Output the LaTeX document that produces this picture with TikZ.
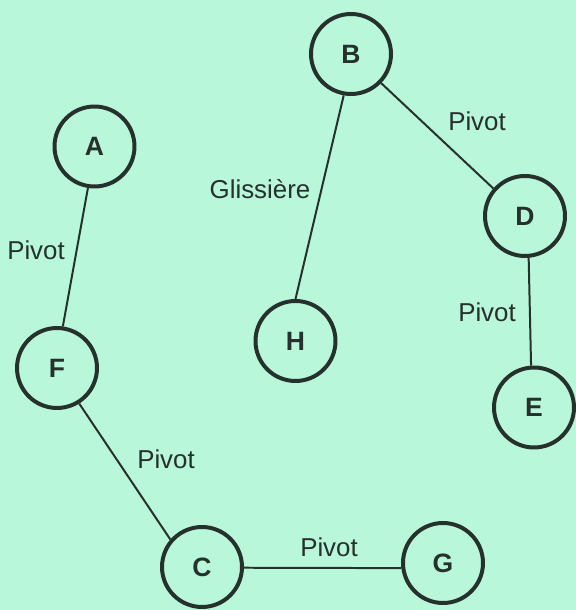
\documentclass[tikz,border=0pt]{standalone}
\usepackage{fontspec}
\setmainfont{Liberation Sans}
\definecolor{bg}{HTML}{B9F7DA}
\definecolor{ink}{HTML}{26302C}
\tikzset{
 vertex/.style={circle,draw=ink,line width=3pt,minimum size=2.12cm,inner sep=0pt,font=\bfseries\fontsize{20}{24}\selectfont,text=ink},
 link/.style={draw=ink,line width=1.5pt},
 lab/.style={font=\fontsize{19.5}{23}\selectfont,text=ink,inner sep=0pt}
}
\begin{document}
\begin{tikzpicture}[x=1cm,y=1cm]
\fill[bg] (0,0) rectangle (576*0.0265,610*0.0265);
\useasboundingbox (0,0) rectangle (576*0.0265,610*0.0265);
\node[vertex] (A) at ({94.5*0.0265},{(610-146.5)*0.0265}) {A};
\node[vertex] (B) at ({351*0.0265},{(610-54)*0.0265}) {B};
\node[vertex] (D) at ({525*0.0265},{(610-216)*0.0265}) {D};
\node[vertex] (H) at ({295.5*0.0265},{(610-341)*0.0265}) {H};
\node[vertex] (E) at ({534*0.0265},{(610-407.5)*0.0265}) {E};
\node[vertex] (F) at ({57*0.0265},{(610-368)*0.0265}) {F};
\node[vertex] (C) at ({202*0.0265},{(610-567)*0.0265}) {C};
\node[vertex] (G) at ({443*0.0265},{(610-563)*0.0265}) {G};
\draw[link] (A.261) -- (F.82.5);
\draw[link] (B.260.5) -- (H.90);
\draw[link] (B.316) -- (D.139);
\draw[link] (D.275) -- (E.94);
\draw[link] (F.302) -- (C.139.5);
\draw[link] (C.359) -- (G.187);
\node[lab] (l1) at ({36*0.0265},{(610-250)*0.0265}) {Pivot};
\node[lab] (l2) at ({260*0.0265},{(610-189)*0.0265}) {Glissière};
\node[lab] (l3) at ({477*0.0265},{(610-121)*0.0265}) {Pivot};
\node[lab] (l4) at ({487*0.0265},{(610-312)*0.0265}) {Pivot};
\node[lab] (l5) at ({166*0.0265},{(610-459)*0.0265}) {Pivot};
\node[lab] (l6) at ({329*0.0265},{(610-547.5)*0.0265}) {Pivot};
\end{tikzpicture}
\end{document}
